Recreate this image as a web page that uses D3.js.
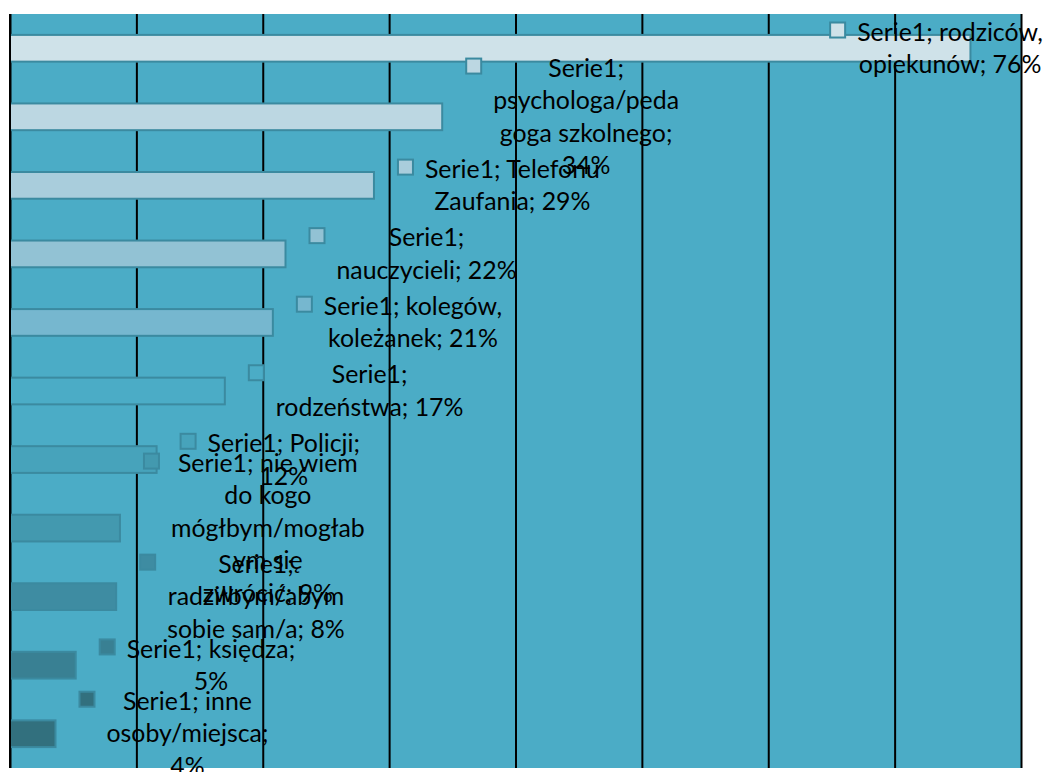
<!DOCTYPE html>
<html><head><meta charset="utf-8">
<script src="https://cdn.jsdelivr.net/npm/d3@7/dist/d3.min.js"></script>
<style>html,body{margin:0;padding:0;background:#fff;overflow:hidden}</style>
</head><body>
<svg id="chart" width="1045" height="772"></svg>
<script>
// ---- data ----
const seriesName = "Serie1";
const categories = [
  "rodziców, opiekunów",
  "psychologa/pedagoga szkolnego",
  "Telefonu Zaufania",
  "nauczycieli",
  "kolegów, koleżanek",
  "rodzeństwa",
  "Policji",
  "nie wiem do kogo mógłbym/mogłabym się zwrócić",
  "radziłbym/abym sobie sam/a",
  "księdza",
  "inne osoby/miejsca"
];
const values = [0.760, 0.342, 0.288, 0.218, 0.208, 0.170, 0.116, 0.087, 0.084, 0.052, 0.036];
const valueLabels = ["76%", "34%", "29%", "22%", "21%", "17%", "12%", "9%", "8%", "5%", "4%"];
// data label text as wrapped in the chart
const labelLines = [
  ["Serie1; rodziców,", "opiekunów; 76%"],
  ["Serie1;", "psychologa/peda", "goga szkolnego;", "34%"],
  ["Serie1; Telefonu", "Zaufania; 29%"],
  ["Serie1;", "nauczycieli; 22%"],
  ["Serie1; kolegów,", "koleżanek; 21%"],
  ["Serie1;", "rodzeństwa; 17%"],
  ["Serie1; Policji;", "12%"],
  ["Serie1; nie wiem", "do kogo", "mógłbym/mogłab", "ym się", "zwrócić; 9%"],
  ["Serie1;", "radziłbym/abym", "sobie sam/a; 8%"],
  ["Serie1; księdza;", "5%"],
  ["Serie1; inne", "osoby/miejsca;", "4%"]
];
const xTickValues = [0, 0.1, 0.2, 0.3, 0.4, 0.5, 0.6, 0.7, 0.8];
const barColors = ["#cfe2e9", "#bcd7e2", "#a9cddc", "#92c2d4", "#76b7cf", "#4bacc6",
                   "#47a3bb", "#4399af", "#3e8ca2", "#398093", "#32707e"];

// ---- layout ----
const W = 1045, H = 772;
const plot = {left: 10, right: 1021, top: 14, bottom: 768};
const svg = d3.select("#chart");
const FONT = "Lato, 'Open Sans', sans-serif";

const x = d3.scaleLinear().domain([0, 0.8]).range([plot.left, plot.right]);
const y = d3.scaleBand().domain(categories).range([plot.top, plot.bottom])
  .paddingInner(0.61).paddingOuter(0.305);

svg.append("rect").attr("x", plot.left).attr("y", plot.top)
  .attr("width", plot.right - plot.left).attr("height", plot.bottom - plot.top)
  .attr("fill", "#4bacc6");

// vertical gridlines via axis
const grid = svg.append("g").attr("transform", `translate(0,${plot.bottom})`)
  .call(d3.axisBottom(x).tickValues(xTickValues).tickSize(-(plot.bottom - plot.top)).tickFormat(""));
grid.select(".domain").remove();
grid.selectAll(".tick line").attr("stroke", "#000").attr("stroke-width", 2);

// bars
svg.append("g").selectAll("rect").data(values).join("rect")
  .attr("x", x(0))
  .attr("y", (d, i) => y(categories[i]))
  .attr("width", d => x(d) - x(0))
  .attr("height", y.bandwidth())
  .attr("fill", (d, i) => barColors[i])
  .attr("stroke", "#3b8aa0")
  .attr("stroke-width", 2);

// zero line on top
svg.append("line").attr("x1", x(0)).attr("x2", x(0)).attr("y1", plot.top).attr("y2", plot.bottom)
  .attr("stroke", "#000").attr("stroke-width", 2);

// font calibration (Calibri-like width)
const probe = svg.append("text").attr("font-family", FONT).attr("font-size", 26).text("Serie1; rodziców,");
const fs = 26 * 186 / probe.node().getComputedTextLength();
probe.remove();

const lineH = 32.5, keySize = 15, keyGap = 12;
const labels = svg.append("g");
values.forEach((v, i) => {
  const lines = labelLines[i];
  const g = labels.append("g");
  const texts = lines.map(t => g.append("text").attr("font-family", FONT).attr("font-size", fs)
    .attr("fill", "#000").attr("text-anchor", "middle").text(t));
  const maxW = d3.max(texts, t => t.node().getComputedTextLength());
  const blockW = keySize + keyGap + maxW;
  const left = Math.min(x(v) + 24, W - 2 - blockW);
  const cy = y(categories[i]) + y.bandwidth() / 2;
  const firstY = cy - (lines.length - 1) / 2 * lineH;
  const cx = left + keySize + keyGap + maxW / 2;
  texts.forEach((t, k) => t.attr("x", cx).attr("y", firstY + k * lineH).attr("dy", "0.35em"));
  g.insert("rect", "text").attr("x", left).attr("y", firstY - 2 - keySize / 2)
    .attr("width", keySize).attr("height", keySize)
    .attr("fill", barColors[i]).attr("stroke", "#3b8aa0").attr("stroke-width", 2);
});
</script>
</body></html>
